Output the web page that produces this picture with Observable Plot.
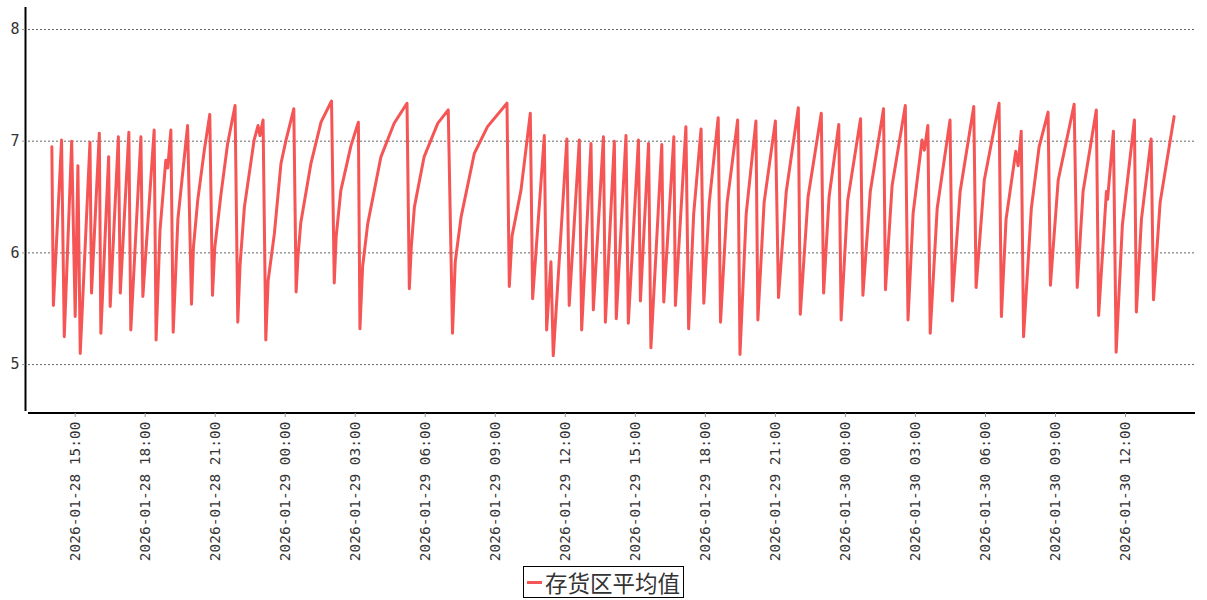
<!DOCTYPE html>
<html>
<head>
<meta charset="utf-8">
<script src="https://cdn.jsdelivr.net/npm/d3@7"></script>
<script src="https://cdn.jsdelivr.net/npm/@observablehq/plot@0.6"></script>
<style>
  html, body { margin: 0; padding: 0; background: #fff; }
  #chart { width: 1207px; }
  #legend { display: flex; justify-content: center; margin-top: 1px; }
  #legend .box { display: inline-flex; align-items: center; border: 1px solid #000; padding: 0 3px 0 3px; height: 30px;
    font-family: "Noto Sans CJK SC", sans-serif; font-size: 22.5px; color: #333; }
  #legend .swatch { display: inline-block; width: 15px; height: 3px; background: #f55555; margin-right: 3px; }
</style>
</head>
<body>
<div id="chart"></div>
<div id="legend"><span class="box"><span class="swatch"></span><span>存货区平均值</span></span></div>
<script>
const seriesName = "存货区平均值";
const times = [
  "2026-01-28 14:00","2026-01-28 14:04","2026-01-28 14:25","2026-01-28 14:32","2026-01-28 14:51","2026-01-28 15:00",
  "2026-01-28 15:07","2026-01-28 15:13","2026-01-28 15:38","2026-01-28 15:42","2026-01-28 16:02","2026-01-28 16:06",
  "2026-01-28 16:26","2026-01-28 16:30","2026-01-28 16:51","2026-01-28 16:56","2026-01-28 17:18","2026-01-28 17:23",
  "2026-01-28 17:49","2026-01-28 17:54","2026-01-28 18:23","2026-01-28 18:28","2026-01-28 18:38","2026-01-28 18:53",
  "2026-01-28 18:58","2026-01-28 19:06","2026-01-28 19:12","2026-01-28 19:24","2026-01-28 19:49","2026-01-28 19:59",
  "2026-01-28 20:04","2026-01-28 20:15","2026-01-28 20:32","2026-01-28 20:46","2026-01-28 20:53","2026-01-28 20:59",
  "2026-01-28 21:15","2026-01-28 21:32","2026-01-28 21:51","2026-01-28 21:58","2026-01-28 22:04","2026-01-28 22:15",
  "2026-01-28 22:40","2026-01-28 22:50","2026-01-28 22:55","2026-01-28 23:03","2026-01-28 23:10","2026-01-28 23:16",
  "2026-01-28 23:32","2026-01-28 23:49",
  "2026-01-29 00:02","2026-01-29 00:22","2026-01-29 00:28","2026-01-29 00:33","2026-01-29 00:40","2026-01-29 01:06",
  "2026-01-29 01:32","2026-01-29 01:59","2026-01-29 02:06","2026-01-29 02:11","2026-01-29 02:23","2026-01-29 02:49",
  "2026-01-29 03:08","2026-01-29 03:12","2026-01-29 03:19","2026-01-29 03:32","2026-01-29 04:06","2026-01-29 04:40",
  "2026-01-29 05:13","2026-01-29 05:19","2026-01-29 05:24","2026-01-29 05:32","2026-01-29 05:57","2026-01-29 06:32",
  "2026-01-29 06:59","2026-01-29 07:10","2026-01-29 07:17","2026-01-29 07:32","2026-01-29 08:06","2026-01-29 08:40",
  "2026-01-29 09:30","2026-01-29 09:36","2026-01-29 09:43","2026-01-29 10:06","2026-01-29 10:30","2026-01-29 10:36",
  "2026-01-29 11:06","2026-01-29 11:12","2026-01-29 11:23","2026-01-29 11:29","2026-01-29 12:04","2026-01-29 12:10",
  "2026-01-29 12:36","2026-01-29 12:42","2026-01-29 13:06","2026-01-29 13:12","2026-01-29 13:38","2026-01-29 13:43",
  "2026-01-29 14:06","2026-01-29 14:11","2026-01-29 14:36","2026-01-29 14:42","2026-01-29 15:08","2026-01-29 15:13",
  "2026-01-29 15:34","2026-01-29 15:40","2026-01-29 16:08","2026-01-29 16:13","2026-01-29 16:39","2026-01-29 16:43",
  "2026-01-29 17:10","2026-01-29 17:17","2026-01-29 17:30","2026-01-29 17:49","2026-01-29 17:56","2026-01-29 18:10",
  "2026-01-29 18:33","2026-01-29 18:39","2026-01-29 18:56","2026-01-29 19:23","2026-01-29 19:29","2026-01-29 19:45",
  "2026-01-29 20:10","2026-01-29 20:15","2026-01-29 20:31","2026-01-29 21:00","2026-01-29 21:08","2026-01-29 21:28",
  "2026-01-29 21:59","2026-01-29 22:04","2026-01-29 22:24","2026-01-29 22:58","2026-01-29 23:04","2026-01-29 23:18",
  "2026-01-29 23:43","2026-01-29 23:49",
  "2026-01-30 00:06","2026-01-30 00:39","2026-01-30 00:45","2026-01-30 01:04","2026-01-30 01:38","2026-01-30 01:43",
  "2026-01-30 02:00","2026-01-30 02:34","2026-01-30 02:41","2026-01-30 02:54","2026-01-30 03:17","2026-01-30 03:23",
  "2026-01-30 03:32","2026-01-30 03:38","2026-01-30 03:56","2026-01-30 04:29","2026-01-30 04:35","2026-01-30 04:55",
  "2026-01-30 05:30","2026-01-30 05:36","2026-01-30 05:57","2026-01-30 06:35","2026-01-30 06:41","2026-01-30 06:53",
  "2026-01-30 07:18","2026-01-30 07:24","2026-01-30 07:32","2026-01-30 07:38","2026-01-30 07:58","2026-01-30 08:18",
  "2026-01-30 08:41","2026-01-30 08:47","2026-01-30 09:07","2026-01-30 09:48","2026-01-30 09:56","2026-01-30 10:11",
  "2026-01-30 10:45","2026-01-30 10:51","2026-01-30 11:11","2026-01-30 11:14","2026-01-30 11:29","2026-01-30 11:36",
  "2026-01-30 11:52","2026-01-30 12:23","2026-01-30 12:28","2026-01-30 12:41","2026-01-30 13:06","2026-01-30 13:12",
  "2026-01-30 13:29","2026-01-30 14:05"
];
const values = [
  6.95,5.53,7.01,5.25,7.00,5.43,
  6.78,5.10,6.99,5.64,7.07,5.28,
  6.86,5.52,7.04,5.64,7.08,5.31,
  7.04,5.61,7.10,5.22,6.20,6.83,
  6.76,7.10,5.29,6.30,7.14,5.54,
  6.05,6.47,6.92,7.24,5.62,6.05,
  6.53,6.98,7.32,5.38,5.90,6.41,
  7.01,7.14,7.05,7.19,5.22,5.75,
  6.17,6.80,
  7.01,7.29,5.65,5.98,6.27,6.80,
  7.17,7.36,5.73,6.15,6.56,6.96,
  7.17,5.32,5.88,6.26,6.86,7.16,
  7.34,5.68,6.05,6.41,6.86,7.16,
  7.28,5.28,5.92,6.32,6.89,7.13,
  7.34,5.70,6.15,6.56,7.25,5.59,
  7.05,5.31,5.92,5.08,7.02,5.53,
  7.01,5.31,6.98,5.49,7.04,5.38,
  7.00,5.41,7.05,5.37,7.01,5.57,
  6.98,5.15,6.97,5.56,7.04,5.53,
  7.13,5.32,6.35,7.11,5.55,6.45,
  7.21,5.38,6.45,7.19,5.09,6.35,
  7.18,5.40,6.45,7.18,5.60,6.55,
  7.30,5.45,6.50,7.25,5.64,6.50,
  7.15,5.40,
  6.47,7.20,5.62,6.55,7.29,5.67,
  6.60,7.32,5.40,6.35,7.01,6.92,
  7.14,5.28,6.40,7.19,5.57,6.55,
  7.31,5.69,6.65,7.34,5.43,6.30,
  6.91,6.78,7.09,5.25,6.40,6.95,
  7.26,5.71,6.65,7.33,5.69,6.55,
  7.28,5.44,6.55,6.48,7.09,5.11,
  6.25,7.19,5.47,6.30,7.02,5.58,
  6.45,7.22
];
const yTicks = [5, 6, 7, 8];
const xTickLabels = [
  "2026-01-28 15:00","2026-01-28 18:00","2026-01-28 21:00","2026-01-29 00:00",
  "2026-01-29 03:00","2026-01-29 06:00","2026-01-29 09:00","2026-01-29 12:00",
  "2026-01-29 15:00","2026-01-29 18:00","2026-01-29 21:00","2026-01-30 00:00",
  "2026-01-30 03:00","2026-01-30 06:00","2026-01-30 09:00","2026-01-30 12:00"
];
const xDomainText = ["2026-01-28 13:00", "2026-01-30 15:00"];
const yDomain = [4.58, 8.17];

const parse = d3.utcParse("%Y-%m-%d %H:%M");
const data = times.map((t, i) => ({time: parse(t), value: values[i], series: seriesName}));
const xTicks = xTickLabels.map(parse);
const xDomain = xDomainText.map(parse);

const plot = Plot.plot({
  width: 1207,
  height: 565,
  marginTop: 10,
  marginBottom: 154,
  marginLeft: 28,
  marginRight: 12,
  style: {background: "#fff", overflow: "visible"},
  x: {type: "utc", domain: xDomain, label: null},
  y: {domain: yDomain, label: null},
  marks: [
    Plot.gridY(yTicks, {stroke: "#666", strokeOpacity: 1, strokeWidth: 1, strokeDasharray: "2,2"}),
    Plot.ruleX([xDomain[0]], {y1: yDomain[0], y2: yDomain[1], stroke: "#000", strokeWidth: 2, dx: -3, insetBottom: 3}),
    Plot.ruleY([yDomain[0]], {stroke: "#000", strokeWidth: 2, dy: 1.5}),
    Plot.axisY(yTicks, {tickSize: 3, dx: -3, tickPadding: 3, stroke: "#999", fill: "#333", label: null,
      tickFormat: d3.format("d"), fontSize: 15, fontFamily: "DejaVu Sans Mono, monospace"}),
    Plot.axisX(xTicks, {tickSize: 4, dy: 2, tickRotate: -90, tickPadding: 4, stroke: "#999", fill: "#333",
      tickFormat: d3.utcFormat("%Y-%m-%d %H:%M"), fontSize: 14.5, fontFamily: "DejaVu Sans Mono, monospace", label: null}),
    Plot.line(data, {x: "time", y: "value", stroke: "#f55555", strokeWidth: 3, strokeLinejoin: "round", strokeLinecap: "round"})
  ]
});
document.getElementById("chart").appendChild(plot);
</script>
</body>
</html>
